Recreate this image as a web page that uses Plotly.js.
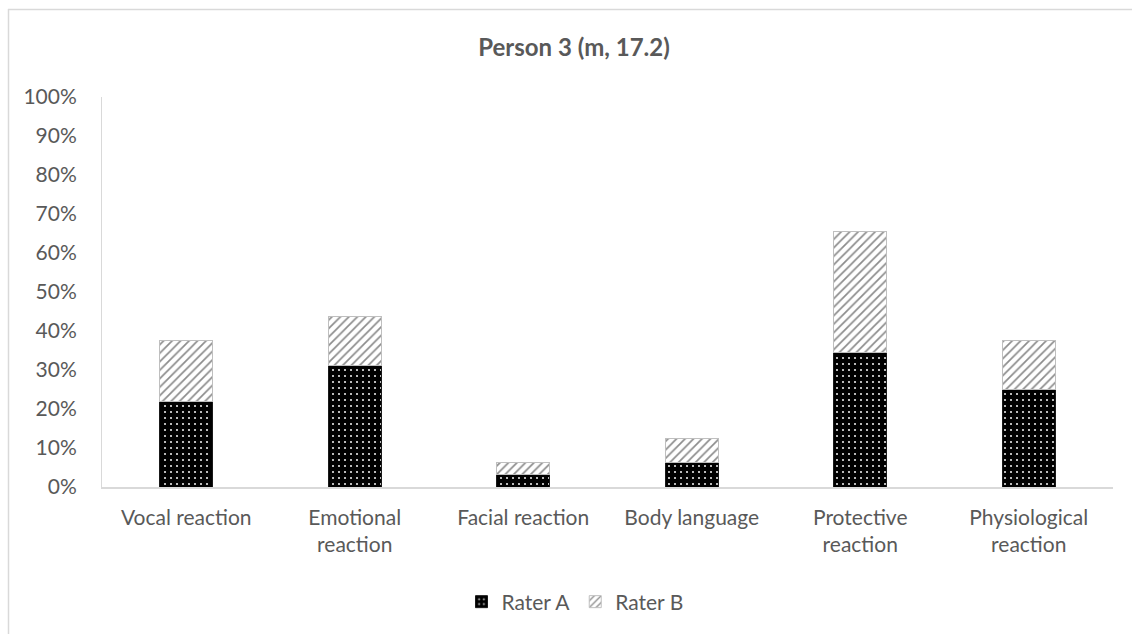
<!DOCTYPE html>
<html>
<head>
<meta charset="utf-8">
<script src="https://cdn.plot.ly/plotly-3.0.1.min.js"></script>
<style>
  html, body { margin: 0; padding: 0; background: #fff; }
  #chart { width: 1132px; height: 634px; }
</style>
</head>
<body>
<div id="chart"></div>
<script>
const categories = ["Vocal reaction", "Emotional<br>reaction", "Facial reaction", "Body language", "Protective<br>reaction", "Physiological<br>reaction"];
const raterA = [0.21875, 0.3125, 0.03125, 0.0625, 0.34375, 0.25];
const raterB = [0.15625, 0.125, 0.03125, 0.0625, 0.3125, 0.125];
const seriesNames = ["Rater A", "Rater B"];
const chartTitle = "Person 3 (m, 17.2)";

const FONT = "Lato, 'Open Sans', sans-serif";
const GREY = "#595959";

const traces = [
  {
    type: "bar", name: seriesNames[0], x: categories, y: raterA,
    marker: {
      color: "#000000",
      line: { color: "#1a1a1a", width: 1 },
      pattern: { shape: ".", bgcolor: "#000000", fgcolor: "#e6e6e6", size: 6, solidity: 0.1, fillmode: "replace" }
    },
    hoverinfo: "skip"
  },
  {
    type: "bar", name: seriesNames[1], x: categories, y: raterB,
    marker: {
      color: "#ffffff",
      line: { color: "#bfbfbf", width: 1 },
      pattern: { shape: "/", bgcolor: "#ffffff", fgcolor: "#8c8c8c", size: 6, solidity: 0.28, fillmode: "replace" }
    },
    hoverinfo: "skip"
  }
];

const pxX = px => (px - 102) / 1011;
const pxY = py => (487 - py) / 390;

const layout = {
  width: 1132, height: 634,
  margin: { l: 102, r: 19, t: 97, b: 147 },
  paper_bgcolor: "#ffffff", plot_bgcolor: "#ffffff",
  barmode: "stack",
  bargap: 0.685,
  font: { family: FONT, color: GREY, size: 21 },
  title: {
    text: "<b>" + chartTitle + "</b>",
    font: { family: FONT, size: 24, color: GREY },
    xref: "container", yref: "container",
    x: 574 / 1132, xanchor: "center",
    y: 1 - 48 / 634, yanchor: "middle"
  },
  xaxis: {
    type: "category",
    showgrid: false, zeroline: false,
    showline: true, linecolor: "#d9d9d9", linewidth: 1.5,
    ticks: "", tickfont: { family: FONT, size: 21, color: GREY },
    ticklabelstandoff: 11,
    fixedrange: true
  },
  yaxis: {
    range: [0, 1], dtick: 0.1, tick0: 0, tickformat: ".0%",
    showgrid: false, zeroline: false,
    showline: true, linecolor: "#d9d9d9", linewidth: 1,
    ticks: "", tickfont: { family: FONT, size: 21, color: GREY },
    ticklabelstandoff: 20,
    fixedrange: true
  },
  showlegend: true,
  legend: {
    orientation: "h",
    x: pxX(575), xanchor: "center",
    y: pxY(602), yanchor: "middle",
    font: { family: FONT, size: 21, color: GREY },
    traceorder: "normal",
    itemwidth: 30
  },
  shapes: [
    { type: "line", xref: "paper", yref: "paper", x0: pxX(8), x1: pxX(1140), y0: pxY(9.5), y1: pxY(9.5), line: { color: "#d9d9d9", width: 1.5 } },
    { type: "line", xref: "paper", yref: "paper", x0: pxX(8.5), x1: pxX(8.5), y0: pxY(9), y1: pxY(640), line: { color: "#d9d9d9", width: 1.5 } }
  ]
};

Plotly.newPlot("chart", traces, layout, { displayModeBar: false, staticPlot: true });
</script>
</body>
</html>
